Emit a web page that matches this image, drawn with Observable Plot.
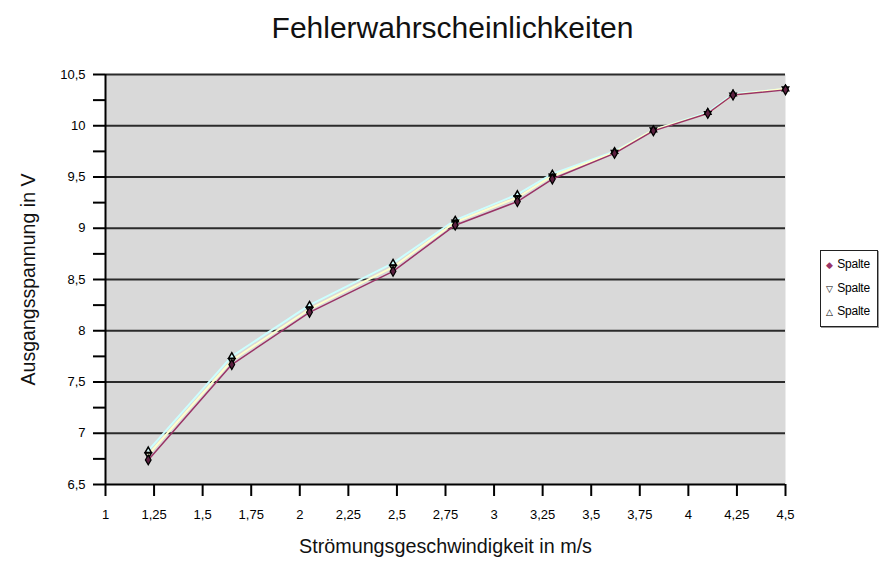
<!DOCTYPE html>
<html>
<head>
<meta charset="utf-8">
<script src="https://cdn.jsdelivr.net/npm/d3@7"></script>
<script src="https://cdn.jsdelivr.net/npm/@observablehq/plot@0.6"></script>
<style>
  html, body { margin: 0; padding: 0; background: #fff; }
  #wrap { position: relative; width: 880px; height: 564px; font-family: "Liberation Sans", Arial, sans-serif; }
  #title { position: absolute; left: 0; width: 905px; top: 13px; text-align: center; font-size: 30px; line-height: 30px; color: #111; }
  #chart { position: absolute; left: 0; top: 60px; }
  #legend { position: absolute; left: 820px; top: 250px; width: 58px; height: 77px; border: 1px solid #222; background: #fff; box-sizing: border-box; font-size: 12px; box-shadow: 1px 1px 0 #999; }
  .li { position: absolute; left: 3px; height: 13px; line-height: 13px; white-space: nowrap; letter-spacing: -0.2px; }
  .mk { display: inline-block; width: 10px; text-align: center; font-size: 9px; }
</style>
</head>
<body>
<div id="wrap">
  <div id="title">Fehlerwahrscheinlichkeiten</div>
  <div id="chart"></div>
  <div id="legend"></div>
</div>
<script>
// Data
const speeds = [1.22, 1.65, 2.05, 2.48, 2.80, 3.12, 3.30, 3.62, 3.82, 4.10, 4.23, 4.50];
const spalte1 = [6.74, 7.67, 8.18, 8.58, 9.03, 9.26, 9.48, 9.73, 9.95, 10.12, 10.30, 10.35];
const spalte2 = [6.79, 7.71, 8.21, 8.62, 9.06, 9.30, 9.51, 9.74, 9.96, 10.12, 10.30, 10.36];
const spalte3 = [6.83, 7.75, 8.25, 8.66, 9.08, 9.33, 9.53, 9.75, 9.96, 10.13, 10.31, 10.36];
const seriesNames = ["Spalte", "Spalte", "Spalte"];
const xTicks = [1, 1.25, 1.5, 1.75, 2, 2.25, 2.5, 2.75, 3, 3.25, 3.5, 3.75, 4, 4.25, 4.5];
const yTicks = [6.5, 7, 7.5, 8, 8.5, 9, 9.5, 10, 10.5];
const yMinorTicks = [6.5, 6.75, 7, 7.25, 7.5, 7.75, 8, 8.25, 8.5, 8.75, 9, 9.25, 9.5, 9.75, 10, 10.25, 10.5];

const fmt = d => String(d).replace(".", ",");
const toRows = arr => speeds.map((x, i) => ({x, y: arr[i]}));
const r1 = toRows(spalte1), r2 = toRows(spalte2), r3 = toRows(spalte3);

const chart = Plot.plot({
  width: 880,
  height: 504,
  marginLeft: 105,
  marginRight: 95,
  marginTop: 14,
  marginBottom: 80,
  style: {fontFamily: "'Liberation Sans', Arial, sans-serif", color: "#000", background: "transparent"},
  x: {domain: [1, 4.5]},
  y: {domain: [6.5, 10.5]},
  marks: [
    Plot.frame({fill: "#d9d9d9", stroke: "none"}),
    Plot.ruleY(yTicks.slice(1), {stroke: "#2b2b2b", strokeWidth: 2}),
    Plot.line(r3, {x: "x", y: "y", stroke: "#ccffff", strokeWidth: 2}),
    Plot.line(r2, {x: "x", y: "y", stroke: "#ffffcc", strokeWidth: 2}),
    Plot.line(r1, {x: "x", y: "y", stroke: "#993366", strokeWidth: 1.5}),
    Plot.dot(r2, {x: "x", y: "y", symbol: "triangle2", r: 3, rotate: 180, stroke: "#000", strokeWidth: 1.5}),
    Plot.dot(r3, {x: "x", y: "y", symbol: "triangle2", r: 3, stroke: "#000", strokeWidth: 1.5}),
    Plot.dot(r1, {x: "x", y: "y", symbol: "diamond", r: 3, fill: "#5c2040", stroke: "#000", strokeWidth: 1.2}),
    Plot.ruleX([1], {stroke: "#000", strokeWidth: 2}),
    Plot.ruleY([6.5], {stroke: "#000", strokeWidth: 2}),
    Plot.axisX({ticks: xTicks, tickSize: 12, tickPadding: 13, tickFormat: fmt, label: null, fontSize: 13, strokeWidth: 2}),
    Plot.axisY({ticks: yMinorTicks, tickSize: 12, tickFormat: () => "", label: null, strokeWidth: 2}),
    Plot.axisY({ticks: yTicks, tickSize: 0, tickPadding: 20, tickFormat: fmt, label: null, fontSize: 13}),
    Plot.text(["Strömungsgeschwindigkeit in m/s"], {frameAnchor: "bottom", textAnchor: "middle", dy: 68, fontSize: 21, fill: "#111", className: "xlab"}),
    Plot.text(["Ausgangsspannung in V"], {frameAnchor: "left", textAnchor: "middle", dx: -77, rotate: -90, fontSize: 20, fill: "#111", className: "ylab"})
  ]
});
d3.select(chart).selectAll(".xlab text").attr("textLength", 293).attr("lengthAdjust", "spacingAndGlyphs");
d3.select(chart).selectAll(".ylab text").attr("textLength", 212).attr("lengthAdjust", "spacingAndGlyphs");
document.getElementById("chart").appendChild(chart);

const legend = document.getElementById("legend");
const markers = [["◆", "#993366"], ["▽", "#000"], ["△", "#000"]];
const tops = [7, 31, 54];
seriesNames.forEach((name, i) => {
  const el = document.createElement("div");
  el.className = "li";
  el.style.top = tops[i] + "px";
  el.innerHTML = `<span class="mk" style="color:${markers[i][1]}">${markers[i][0]}</span> ${name}`;
  legend.appendChild(el);
});
</script>
</body>
</html>
